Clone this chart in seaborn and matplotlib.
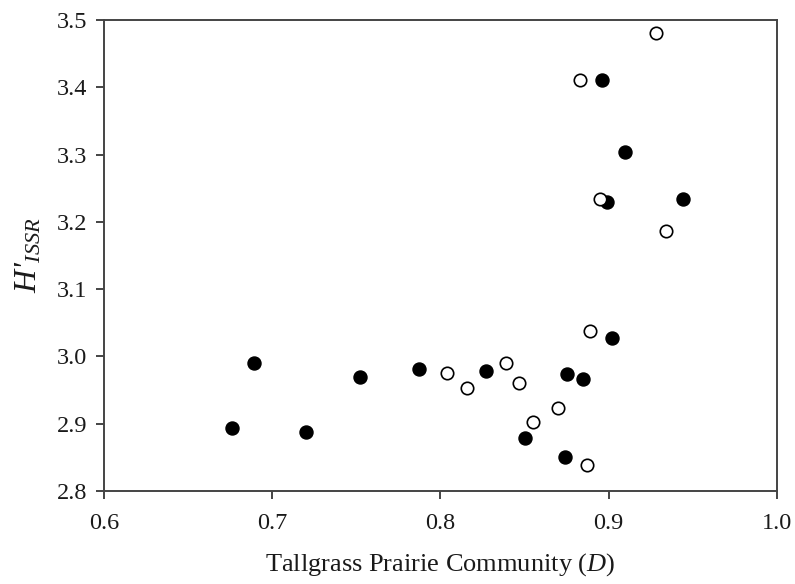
import matplotlib
matplotlib.use("Agg")
import matplotlib.pyplot as plt
import seaborn as sns
import pandas as pd

# Filled circles
filled_x = [0.676, 0.689, 0.720, 0.752, 0.787, 0.827, 0.850, 0.874, 0.875, 0.885,
            0.902, 0.899, 0.944, 0.910, 0.896]
filled_y = [2.894, 2.990, 2.888, 2.970, 2.981, 2.979, 2.879, 2.850, 2.974, 2.966,
            3.028, 3.229, 3.234, 3.303, 3.411]
# Open circles
open_x = [0.804, 0.816, 0.839, 0.847, 0.855, 0.870, 0.887, 0.889, 0.895, 0.934,
          0.883, 0.928]
open_y = [2.976, 2.953, 2.990, 2.961, 2.903, 2.924, 2.839, 3.038, 3.234, 3.186,
          3.411, 3.480]

x_ticks = [0.6, 0.7, 0.8, 0.9, 1.0]
y_ticks = [2.8, 2.9, 3.0, 3.1, 3.2, 3.3, 3.4, 3.5]
x_label = r"Tallgrass Prairie Community ($\mathit{D}$)"
y_label = r"$H$'$_{ISSR}$"

df = pd.DataFrame({
    "x": filled_x + open_x,
    "y": filled_y + open_y,
    "group": ["filled"] * len(filled_x) + ["open"] * len(open_x),
})

sns.set_theme(style="white")
plt.rcParams["font.family"] = ["Liberation Serif", "DejaVu Serif"]
plt.rcParams["mathtext.fontset"] = "custom"
plt.rcParams["mathtext.rm"] = "Liberation Serif"
plt.rcParams["mathtext.it"] = "Liberation Serif:italic"
plt.rcParams["mathtext.bf"] = "Liberation Serif:bold"

fig = plt.figure(figsize=(7.95, 5.84), dpi=100)
ax = fig.add_axes([0.131, 0.159, 0.846, 0.807])

sns.scatterplot(data=df[df.group == "filled"], x="x", y="y", ax=ax,
                color="black", edgecolor="black", s=88, linewidth=1.0,
                legend=False, zorder=3)
sns.scatterplot(data=df[df.group == "open"], x="x", y="y", ax=ax,
                color="white", edgecolor="black", s=80, linewidth=1.2,
                legend=False, zorder=4)

ax.set_xlim(0.6, 1.0)
ax.set_ylim(2.8, 3.5)
ax.set_xticks(x_ticks)
ax.set_xticklabels([f"{t:.1f}" for t in x_ticks])
ax.set_yticks(y_ticks)
ax.set_yticklabels([f"{t:.1f}" for t in y_ticks])

for sp in ax.spines.values():
    sp.set_visible(True)
    sp.set_color("#444444")
    sp.set_linewidth(1.4)

ax.tick_params(axis="both", which="major", direction="out", length=6, width=1.4,
               color="#444444", labelsize=17.5, labelcolor="#1a1a1a",
               bottom=True, left=True, top=False, right=False)
ax.tick_params(axis="x", pad=10)
ax.tick_params(axis="y", pad=6)

ax.set_xlabel(x_label, fontsize=19, color="#1a1a1a", labelpad=12)
ax.set_ylabel(y_label, fontsize=23, color="#1a1a1a", labelpad=10,
              fontstyle="italic")

fig.savefig("out.png", dpi=100, facecolor="white")
